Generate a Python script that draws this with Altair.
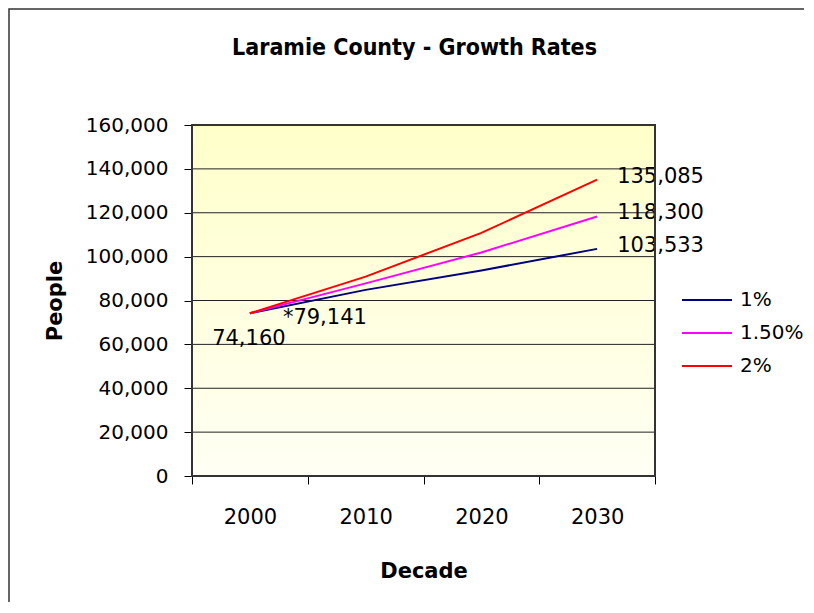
import altair as alt
import pandas as pd

# ---- data ----
decades = ["2000", "2010", "2020", "2030"]
series_names = ["1%", "1.50%", "2%"]
values_1pct = [74160, 84850, 93700, 103533]
values_15pct = [74160, 87800, 101900, 118300]
values_2pct = [74160, 90900, 110800, 135085]
series_colors = ["#000080", "#FF00FF", "#FF0000"]
y_ticks = [0, 20000, 40000, 60000, 80000, 100000, 120000, 140000, 160000]
grid_values = [20000, 40000, 60000, 80000, 100000, 120000, 140000]

label_texts = ["74,160", "*79,141", "135,085", "118,300", "103,533"]
label_decades = ["2000", "2000", "2030", "2030", "2030"]
label_values = [74160, 79141, 135085, 118300, 103533]
label_groups = ["start", "est", "end", "end", "end"]

rows = []
for name, vals in zip(series_names, [values_1pct, values_15pct, values_2pct]):
    for d, v in zip(decades, vals):
        rows.append({"decade": d, "series": name, "value": v})
lines_df = pd.DataFrame(rows)
labels_df = pd.DataFrame({"decade": label_decades, "value": label_values,
                          "label": label_texts, "grp": label_groups})
grid_df = pd.DataFrame({"value": grid_values})
one_df = pd.DataFrame({"k": [0]})

FONT = "DejaVu Sans"
W, H = 463, 351

yscale = alt.Scale(domain=[0, 160000], nice=False, zero=True)
yaxis = alt.Axis(title="People", values=y_ticks, format=",.0f", grid=False, domain=False,
                 tickSize=8, tickColor="#000", labelPadding=16, titlePadding=20,
                 labelFontSize=20, titleFontSize=21, labelFont=FONT, titleFont=FONT,
                 titleFontWeight="bold", labelColor="#000", titleColor="#000")
xscale = alt.Scale(type="band", paddingInner=0, paddingOuter=0)
xaxis = alt.Axis(title="Decade", tickBand="extent", labelAngle=0, grid=False, domain=False,
                 tickSize=8, tickColor="#000", labelPadding=22, titlePadding=33,
                 labelFontSize=21, titleFontSize=21, labelFont=FONT, titleFont=FONT,
                 titleFontWeight="bold", labelColor="#000", titleColor="#000")

gradient = alt.LinearGradient(
    gradient="linear",
    stops=[alt.GradientStop(color="#FFFFCA", offset=0),
           alt.GradientStop(color="#FFFFF4", offset=1)],
    x1=0, x2=0, y1=0, y2=1,
)

background = alt.Chart(one_df).mark_rect(color=gradient).encode(
    x=alt.value(0), x2=alt.value("width"), y=alt.value(0), y2=alt.value("height")
)

grid = alt.Chart(grid_df).mark_rule(color="#222", strokeWidth=1).encode(
    y=alt.Y("value:Q", scale=yscale, axis=yaxis),
    x=alt.value(0), x2=alt.value("width"),
)

lines = alt.Chart(lines_df).mark_line(strokeWidth=2).encode(
    x=alt.X("decade:O", sort=decades, scale=xscale, axis=xaxis),
    y=alt.Y("value:Q", scale=yscale, axis=yaxis),
    color=alt.Color("series:N", sort=series_names,
                    scale=alt.Scale(domain=series_names, range=series_colors),
                    legend=alt.Legend(title=None, orient="none", legendX=494, legendY=154,
                                      symbolType="M-1.25,0L1.25,0", symbolSize=1600,
                                      symbolStrokeWidth=2, labelFontSize=20, labelFont=FONT,
                                      labelColor="#000", labelOffset=12, rowPadding=2,
                                      padding=0)),
    order=alt.Order("series:N"),
)

text_common = dict(font=FONT, fontSize=21, color="#000", baseline="middle")

end_labels = alt.Chart(labels_df).transform_filter(alt.datum.grp == "end").mark_text(
    align="left", dx=20, dy=-3, **text_common
).encode(x=alt.X("decade:O", sort=decades, scale=xscale, axis=xaxis),
         y=alt.Y("value:Q", scale=yscale, axis=yaxis), text="label:N")

start_label = alt.Chart(labels_df).transform_filter(alt.datum.grp == "start").mark_text(
    align="center", dx=-1, dy=26, **text_common
).encode(x=alt.X("decade:O", sort=decades, scale=xscale, axis=xaxis),
         y=alt.Y("value:Q", scale=yscale, axis=yaxis), text="label:N")

est_label = alt.Chart(labels_df).transform_filter(alt.datum.grp == "est").mark_text(
    align="center", dx=75, dy=16, **text_common
).encode(x=alt.X("decade:O", sort=decades, scale=xscale, axis=xaxis),
         y=alt.Y("value:Q", scale=yscale, axis=yaxis), text="label:N")

plot_frame = alt.Chart(one_df).mark_rect(fillOpacity=0, stroke="#333", strokeWidth=2).encode(
    x=alt.value(0), x2=alt.value("width"), y=alt.value(0), y2=alt.value("height")
)

outer_frame = alt.Chart(one_df).mark_rect(fillOpacity=0, stroke="#333", strokeWidth=1.5).encode(
    x=alt.value(-183), x2=alt.value(700), y=alt.value(-116), y2=alt.value(600)
)

chart = alt.layer(
    background, grid, lines, end_labels, start_label, est_label, plot_frame, outer_frame
).properties(
    width=W, height=H,
    title=alt.Title("Laramie County - Growth Rates",
                    font="'Liberation Sans Narrow', 'DejaVu Sans Condensed', sans-serif",
                    fontSize=23, fontWeight="bold", color="#000", frame="group",
                    anchor="middle", dx=-9, offset=-70, baseline="alphabetic"),
    autosize=alt.AutoSizeParams(type="none"),
    padding={"left": 184, "top": 117, "right": 149, "bottom": 126},
    background="#FFFFFF",
).configure_view(strokeWidth=0)

chart.save("out.html", embed_options={"renderer": "svg", "actions": False})
